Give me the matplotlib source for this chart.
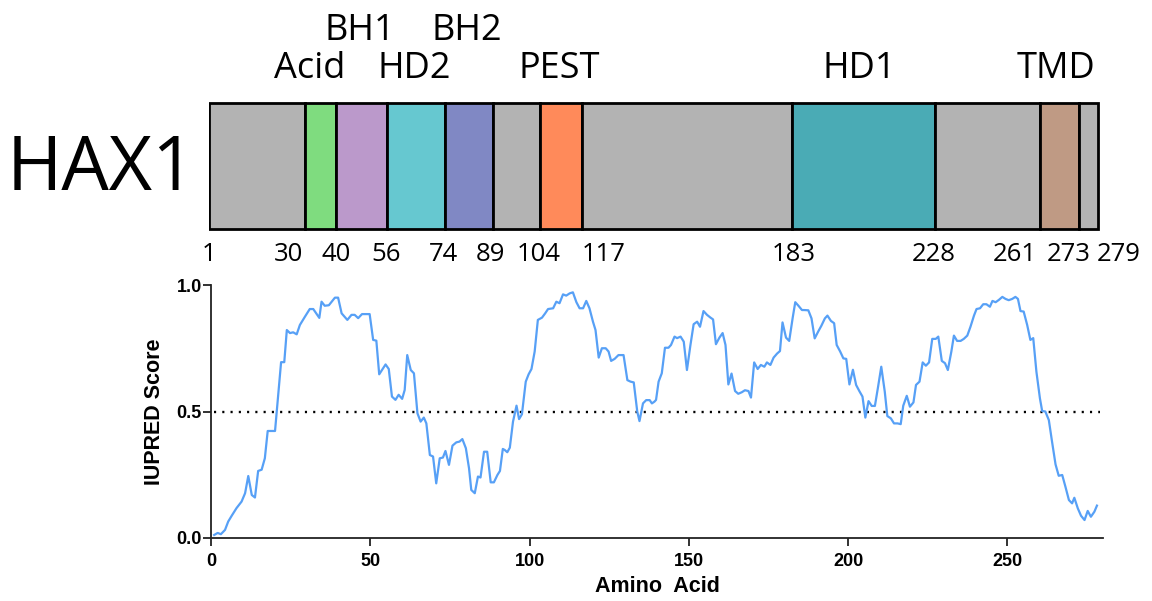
import matplotlib
matplotlib.use("Agg")
import matplotlib.pyplot as plt

# ---- domain map of HAX1 (residue boundaries) ----
seg_start = [0, 30, 40, 56, 74, 89, 104, 117, 183, 228, 261, 273]
seg_end = [30, 40, 56, 74, 89, 104, 117, 183, 228, 261, 273, 279]
seg_color = ['#b3b3b3', '#7fdc7f', '#bb99cb', '#66c8d0', '#8088c4', '#b3b3b3',
             '#ff8a5a', '#b3b3b3', '#4aabb5', '#b3b3b3', '#bf9a84', '#b3b3b3']

domain_names = ['Acid', 'BH1', 'HD2', 'BH2', 'PEST', 'HD1', 'TMD']
domain_x = [31.5, 47.5, 64.5, 81, 110, 204, 266]
domain_row = [1, 0, 1, 0, 1, 1, 1]   # 0 = upper row, 1 = lower row

pos_labels = ['1', '30', '40', '56', '74', '89', '104', '117', '183', '228', '261', '273', '279']
pos_label_x = [0, 25, 39.8, 55.5, 73.7, 88.4, 103.5, 124, 183.5, 227.4, 252.8, 270, 285.5]

# ---- IUPRED score ----
residue = [
    1.0, 2.1, 3.1, 4.4, 5.4, 6.5, 8.0, 9.6, 10.7, 11.7, 12.8, 13.8, 14.8, 15.9, 16.9,
    17.8, 20.1, 21.1, 22.0, 23.0, 23.8, 24.8, 25.8, 26.9, 27.9, 29.5, 31.0, 32.1, 34.0,
    34.7, 35.7, 37.0, 38.9, 39.9, 41.0, 42.8, 44.1,
    45.1, 46.2, 47.4, 49.8, 50.9, 51.9, 52.8, 54.0, 54.8, 55.8, 56.8, 57.9, 58.9, 60.0,
    60.8, 61.6, 62.7, 63.7, 64.8, 65.8, 66.8, 67.6, 68.7, 69.7, 70.7, 71.8, 72.8, 73.6,
    74.7, 75.8, 77.0, 78.0, 78.9, 80.0, 81.0, 81.7, 82.8, 83.8, 84.6, 85.7, 86.7, 87.8,
    88.8, 89.9, 90.7, 91.6,
    92.2, 93.0, 93.8, 94.8, 95.9, 96.7, 97.6, 98.8, 99.7, 100.6, 101.6, 102.6, 103.9,
    104.9, 105.8, 107.4, 108.4, 109.4, 110.5, 111.5, 112.6, 113.6, 114.7, 115.7, 116.8,
    117.8, 118.8, 119.9, 120.7, 121.7, 122.7, 123.9, 124.8, 125.6, 126.7, 127.9, 129.5,
    130.7, 131.7, 132.7, 133.8, 134.5, 135.6, 136.6, 137.7, 138.4,
    139.2, 139.7, 140.5, 141.5, 142.5, 143.6, 144.4, 145.5, 146.3, 147.4, 148.4, 149.4,
    150.5, 151.5, 152.6, 153.5, 154.6, 155.7, 156.8, 157.6, 158.5, 159.6, 160.6, 161.5,
    162.4, 163.4, 164.5, 165.5, 166.6, 167.6, 168.7, 169.5, 170.5, 171.6, 172.6, 173.7,
    174.5, 175.6, 176.6, 177.7, 178.6, 179.4, 180.5, 181.5, 182.6, 183.4, 184.4, 185.5,
    186.2, 187.5, 188.5, 189.5, 190.6, 191.6, 192.7, 193.5, 194.6, 195.6, 196.4, 197.5,
    198.5, 199.4, 200.4, 201.5, 202.5, 203.5, 204.5, 205.4, 206.4, 207.4, 208.4, 209.4,
    210.4, 211.5, 212.3, 213.4, 214.4, 215.5, 216.5, 217.3, 218.4, 219.4, 220.5, 221.3,
    222.4, 223.4, 224.4, 225.4, 226.4, 227.5, 228.3, 229.4, 230.4, 231.3, 232.4,
    233.2, 234.2, 235.3, 236.3, 237.4, 238.4, 239.5, 240.3, 241.4, 242.4, 243.4, 244.5,
    245.3, 246.3, 247.3, 248.4, 249.4, 250.4, 251.5, 252.5, 253.3, 254.1, 255.1, 256.2,
    257.2, 258.1, 259.1, 260.2, 260.9, 261.9, 263.0, 264.0, 265.1, 266.1, 267.2, 268.2,
    269.3, 270.3, 271.0, 272.1, 273.1, 274.2, 275.2, 276.2, 277.3, 278.1,
]
score = [
    0.012, 0.02, 0.015, 0.032, 0.065, 0.088, 0.118, 0.144, 0.177, 0.245, 0.17, 0.16, 0.265, 0.27, 0.315,
    0.423, 0.423, 0.566, 0.695, 0.695, 0.822, 0.81, 0.813, 0.805, 0.842, 0.875, 0.905, 0.905, 0.87,
    0.934, 0.918, 0.92, 0.95, 0.95, 0.888, 0.862, 0.882,
    0.882, 0.869, 0.885, 0.885, 0.783, 0.78, 0.647, 0.67, 0.686, 0.668, 0.559, 0.546, 0.566, 0.55,
    0.585, 0.723, 0.664, 0.651, 0.493, 0.46, 0.476, 0.453, 0.328, 0.322, 0.216, 0.315, 0.318, 0.344,
    0.289, 0.365, 0.378, 0.381, 0.391, 0.355, 0.275, 0.19, 0.177, 0.243, 0.239, 0.341, 0.341, 0.22,
    0.22, 0.249, 0.265, 0.352,
    0.348, 0.339, 0.357, 0.46, 0.523, 0.47, 0.489, 0.618, 0.647, 0.668, 0.737, 0.862, 0.871,
    0.888, 0.905, 0.908, 0.934, 0.928, 0.963, 0.958, 0.967, 0.971, 0.932, 0.908, 0.908,
    0.937, 0.908, 0.855, 0.822, 0.713, 0.75, 0.75, 0.737, 0.70, 0.708, 0.723, 0.723,
    0.624, 0.618, 0.615, 0.50, 0.462, 0.532, 0.545, 0.545, 0.532,
    0.539, 0.546, 0.618, 0.651, 0.752, 0.752, 0.763, 0.796, 0.79, 0.796, 0.776, 0.664,
    0.763, 0.845, 0.855, 0.835, 0.897, 0.882, 0.871, 0.864, 0.766, 0.792, 0.81, 0.763,
    0.607, 0.65, 0.581, 0.57, 0.576, 0.584, 0.581, 0.555, 0.694, 0.668, 0.684, 0.677,
    0.694, 0.684, 0.713, 0.729, 0.739, 0.852, 0.792, 0.779, 0.871, 0.932, 0.918, 0.901,
    0.901, 0.9, 0.868, 0.789, 0.816, 0.839, 0.868, 0.879, 0.858, 0.849, 0.763, 0.737,
    0.71, 0.708, 0.607, 0.665, 0.605, 0.581, 0.559, 0.476, 0.541, 0.522, 0.522, 0.598,
    0.677, 0.578, 0.482, 0.473, 0.453, 0.453, 0.45, 0.523, 0.562, 0.519, 0.536, 0.605,
    0.618, 0.694, 0.681, 0.694, 0.787, 0.787, 0.796, 0.70, 0.691, 0.664, 0.737,
    0.8, 0.779, 0.779, 0.787, 0.8, 0.835, 0.879, 0.905, 0.908, 0.924, 0.924, 0.914,
    0.937, 0.932, 0.941, 0.953, 0.945, 0.94, 0.945, 0.953, 0.945, 0.897, 0.895, 0.842,
    0.783, 0.79, 0.657, 0.552, 0.502, 0.5, 0.466, 0.381, 0.291, 0.246, 0.249, 0.203,
    0.15, 0.137, 0.159, 0.117, 0.088, 0.071, 0.107, 0.084, 0.104, 0.128,
]
threshold = 0.5
seq_len = 279

W, H = 1152, 601
fig = plt.figure(figsize=(W / 100, H / 100), dpi=100)

# ---------------- domain bar ----------------
top = fig.add_axes([209 / W, 1 - 265 / H, 892 / W, 265 / H])
top.set_xlim(0, 280)
top.set_ylim(265, 0)   # y in pixels from the top
top.axis('off')
widths = [e - s for s, e in zip(seg_start, seg_end)]
top.barh(166, widths, left=seg_start, height=126, color=seg_color,
         edgecolor='black', linewidth=2.0, zorder=2)

label_font = 'Open Sans'
for name, x, row in zip(domain_names, domain_x, domain_row):
    top.text(x, [40, 78][row], name, ha='center', va='baseline',
             fontsize=26, family=label_font)
for lab, x in zip(pos_labels, pos_label_x):
    top.text(x, 261, lab, ha='center', va='baseline', fontsize=18.5, family=label_font,
             clip_on=False)

fig.text(7 / W, 1 - 190 / H, 'HAX1', ha='left', va='baseline', fontsize=54,
         family=label_font)

# ---------------- IUPRED profile ----------------
ax = fig.add_axes([211 / W, 1 - 538 / H, 892 / W, 253 / H])
ax.plot(residue, score, color='#57a0f6', lw=1.6, zorder=3)
ax.hlines(threshold, 1, seq_len, colors='black', linestyles=(0, (0.9, 2.6)), lw=1.7)

ax.set_xlim(0, 280)
ax.set_ylim(0, 1.0)
ax.set_xticks([0, 50, 100, 150, 200, 250])
ax.set_yticks([0.0, 0.5, 1.0])
ax.set_yticklabels(['0.0', '0.5', '1.0'])
for s in ['top', 'right']:
    ax.spines[s].set_visible(False)
for s in ['left', 'bottom']:
    ax.spines[s].set_linewidth(1.3)
    ax.spines[s].set_color('#222222')
ax.tick_params(axis='both', length=5.5, width=1.3, color='#222222')
ax.tick_params(axis='y', pad=1)
ax.tick_params(axis='x', pad=5)
for t in ax.get_xticklabels() + ax.get_yticklabels():
    t.set_family('Liberation Sans')
    t.set_fontweight('bold')
    t.set_fontsize(13)

ax.set_ylabel('IUPRED Score', family='Liberation Sans', fontweight='bold', fontsize=15.5)
ax.set_xlabel('Amino  Acid', family='Liberation Sans', fontweight='bold', fontsize=15.5)
ax.yaxis.set_label_coords(-0.052, 0.5)
ax.xaxis.set_label_coords(0.5, -0.15)

fig.savefig('out.png', dpi=100)
